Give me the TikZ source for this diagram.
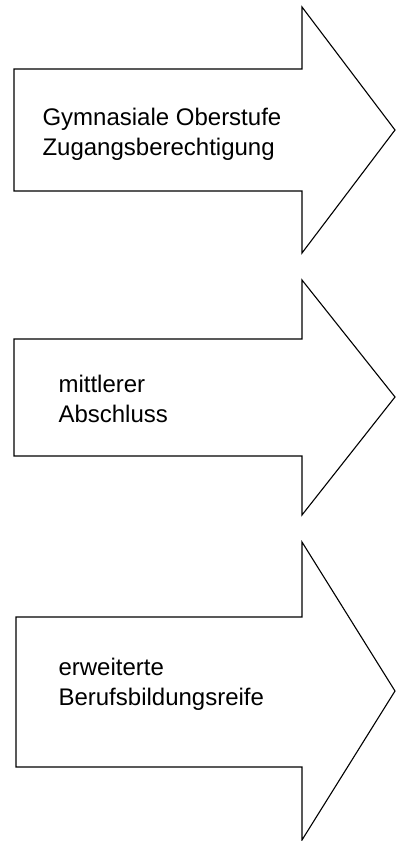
\documentclass[tikz,border=0pt]{standalone}
\usepackage{fontspec}
\setmainfont{Liberation Sans}
\usepackage{tikz}
\tikzset{arrowtext/.style={anchor=base west, align=left, inner sep=0pt, font=\fontsize{24}{30}\selectfont}}

\begin{document}
\begin{tikzpicture}[x=1pt,y=-1pt,line width=1.1pt]
\useasboundingbox (0,0) rectangle (397,841);
% Pfeil 1
\draw (14,69) -- (302,69) -- (302,7) -- (395,130) -- (302,253) -- (302,191) -- (14,191) -- cycle;
\node[arrowtext] (gym) at (42,155) {Gymnasiale Oberstufe\\Zugangsberechtigung};
% Pfeil 2
\draw (14,339) -- (302,339) -- (302,280) -- (395,397) -- (302,515) -- (302,456) -- (14,456) -- cycle;
\node[arrowtext] (msa) at (58,422) {mittlerer\\Abschluss};
% Pfeil 3
\draw (16,617) -- (302,617) -- (302,542) -- (395,691) -- (302,840) -- (302,767) -- (16,767) -- cycle;
\node[arrowtext] (ebr) at (58,705) {erweiterte\\Berufsbildungsreife};
\end{tikzpicture}
\end{document}
